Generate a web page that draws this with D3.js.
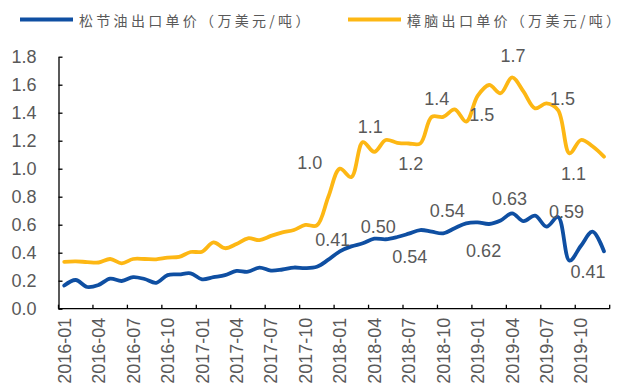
<!DOCTYPE html>
<html>
<head>
<meta charset="utf-8">
<script src="https://cdn.jsdelivr.net/npm/d3@7"></script>
<style>
  html, body { margin: 0; padding: 0; background: #fff; }
  svg { display: block; }
</style>
</head>
<body>
<svg id="chart" width="629" height="387"></svg>
<script>
// Monthly export unit prices, 2016-01 .. 2019-12 (10k USD per tonne)
const months = [];
for (let y = 2016; y <= 2019; y++) {
  for (let m = 1; m <= 12; m++) months.push(y + "-" + String(m).padStart(2, "0"));
}
const tickLabels = ["2016-01","2016-04","2016-07","2016-10","2017-01","2017-04","2017-07","2017-10",
                    "2018-01","2018-04","2018-07","2018-10","2019-01","2019-04","2019-07","2019-10"];
const yTicks = [0, 0.2, 0.4, 0.6, 0.8, 1.0, 1.2, 1.4, 1.6, 1.8];

const seriesNames = ["松节油出口单价（万美元/吨）", "樟脑出口单价（万美元/吨）"];

const turpentine = [
  0.165, 0.205, 0.155, 0.170, 0.215, 0.198, 0.226, 0.212, 0.185, 0.240, 0.245, 0.253,
  0.210, 0.225, 0.240, 0.270, 0.264, 0.294, 0.272, 0.280, 0.294, 0.290, 0.300, 0.350,
  0.410, 0.445, 0.467, 0.500, 0.496, 0.512, 0.536, 0.562, 0.550, 0.538, 0.575, 0.610,
  0.617, 0.605, 0.630, 0.681, 0.625, 0.665, 0.586, 0.655, 0.343, 0.450, 0.550, 0.410
];
const camphor = [
  0.335, 0.338, 0.333, 0.330, 0.355, 0.324, 0.355, 0.355, 0.353, 0.365, 0.370, 0.405,
  0.407, 0.474, 0.432, 0.462, 0.503, 0.490, 0.520, 0.545, 0.562, 0.598, 0.595, 0.800,
  1.000, 0.940, 1.190, 1.120, 1.205, 1.185, 1.180, 1.180, 1.370, 1.370, 1.424, 1.336,
  1.520, 1.598, 1.539, 1.653, 1.550, 1.431, 1.467, 1.419, 1.110, 1.205, 1.160, 1.086
];

// Annotated points (month index) for each series
const turpentineLabelIdx = [24, 27, 30, 33, 36, 38, 42, 47];
const camphorLabelIdx    = [24, 27, 30, 32, 36, 39, 42, 44];

// Label placement offsets from the point, in px
const turpentineLabelOffset = [[-7,-11],[4,-12],[1,23],[4,-22],[6,29],[9,-22],[20,-15],[-16,21]];
const camphorLabelOffset    = [[-30,-6],[-4,-25],[2,20],[5,-18],[4,19],[1,-21],[16,-4],[4,21]];

const colors = ["#0F4FA2", "#FDB714"];
const textColor = "#595959";
const numFont = "'Liberation Sans', Arial, sans-serif";

const svg = d3.select("#chart");
const plot = { left: 58.5, right: 609.7, top: 56.7, bottom: 308.7 };

const x = d3.scaleBand().domain(months).range([plot.left, plot.right]).paddingInner(0).paddingOuter(0);
const y = d3.scaleLinear().domain([0, 1.8]).range([plot.bottom, plot.top]);
const cx = d => x(d) + x.bandwidth() / 2;

// Y axis
const yAxis = d3.axisLeft(y).tickValues(yTicks).tickFormat(d3.format(".1f")).tickSizeInner(-4).tickSizeOuter(0).tickPadding(22);
const gy = svg.append("g").attr("transform", `translate(${plot.left},0)`).call(yAxis);
gy.select(".domain").attr("stroke", "#000").attr("stroke-width", 1.3);
gy.selectAll(".tick line").attr("stroke", "#000").attr("stroke-width", 1.3);
gy.selectAll(".tick text").attr("fill", textColor).style("font-family", numFont).style("font-size", "18px");

// X axis: tick marks at every third month boundary
const xAxisLine = svg.append("g");
xAxisLine.append("line")
  .attr("x1", plot.left).attr("x2", plot.right)
  .attr("y1", plot.bottom).attr("y2", plot.bottom)
  .attr("stroke", "#000").attr("stroke-width", 1.3);
const boundaries = months.filter((m, i) => i % 3 === 0).map(m => x(m)).concat([plot.right]);
xAxisLine.selectAll("line.tk").data(boundaries).join("line").attr("class", "tk")
  .attr("x1", d => d).attr("x2", d => d)
  .attr("y1", plot.bottom).attr("y2", plot.bottom - 4)
  .attr("stroke", "#000").attr("stroke-width", 1.3);
xAxisLine.selectAll("text").data(tickLabels).join("text")
  .attr("transform", d => `translate(${cx(d) + 6.5},${plot.bottom + 9}) rotate(-90)`)
  .attr("text-anchor", "end")
  .attr("fill", textColor)
  .style("font-family", numFont).style("font-size", "18px")
  .text(d => d);

// Lines
const line = d3.line()
  .x((d, i) => cx(months[i]))
  .y(d => y(d))
  .curve(d3.curveCatmullRom.alpha(0.5));

[turpentine, camphor].forEach((vals, k) => {
  svg.append("path").datum(vals)
    .attr("fill", "none")
    .attr("stroke", colors[k])
    .attr("stroke-width", 3.8)
    .attr("stroke-linejoin", "round")
    .attr("stroke-linecap", "round")
    .attr("d", line);
});

// Value labels
function drawLabels(vals, idx, offs, fmt) {
  svg.append("g").selectAll("text").data(idx).join("text")
    .attr("x", (d, j) => cx(months[d]) + offs[j][0])
    .attr("y", (d, j) => y(vals[d]) + offs[j][1])
    .attr("text-anchor", "middle")
    .attr("dominant-baseline", "central")
    .attr("fill", textColor)
    .style("font-family", numFont).style("font-size", "18px")
    .text(d => fmt(vals[d]));
}
drawLabels(turpentine, turpentineLabelIdx, turpentineLabelOffset, d3.format(".2f"));
drawLabels(camphor, camphorLabelIdx, camphorLabelOffset, d3.format(".1f"));

// Legend
const legend = svg.append("g");
const legendPos = [20, 348];
seriesNames.forEach((name, k) => {
  const g = legend.append("g").attr("transform", `translate(${legendPos[k]},19.5)`);
  g.append("line").attr("x1", 0).attr("x2", 53).attr("y1", 0).attr("y2", 0)
    .attr("stroke", colors[k]).attr("stroke-width", 4);
  g.append("text").attr("x", 59).attr("y", 0)
    .attr("dominant-baseline", "central")
    .attr("fill", textColor)
    .style("font-family", "'Noto Sans CJK SC', sans-serif")
    .style("font-size", "14px")
    .style("letter-spacing", "3.3px")
    .text(name);
});
</script>
</body>
</html>
